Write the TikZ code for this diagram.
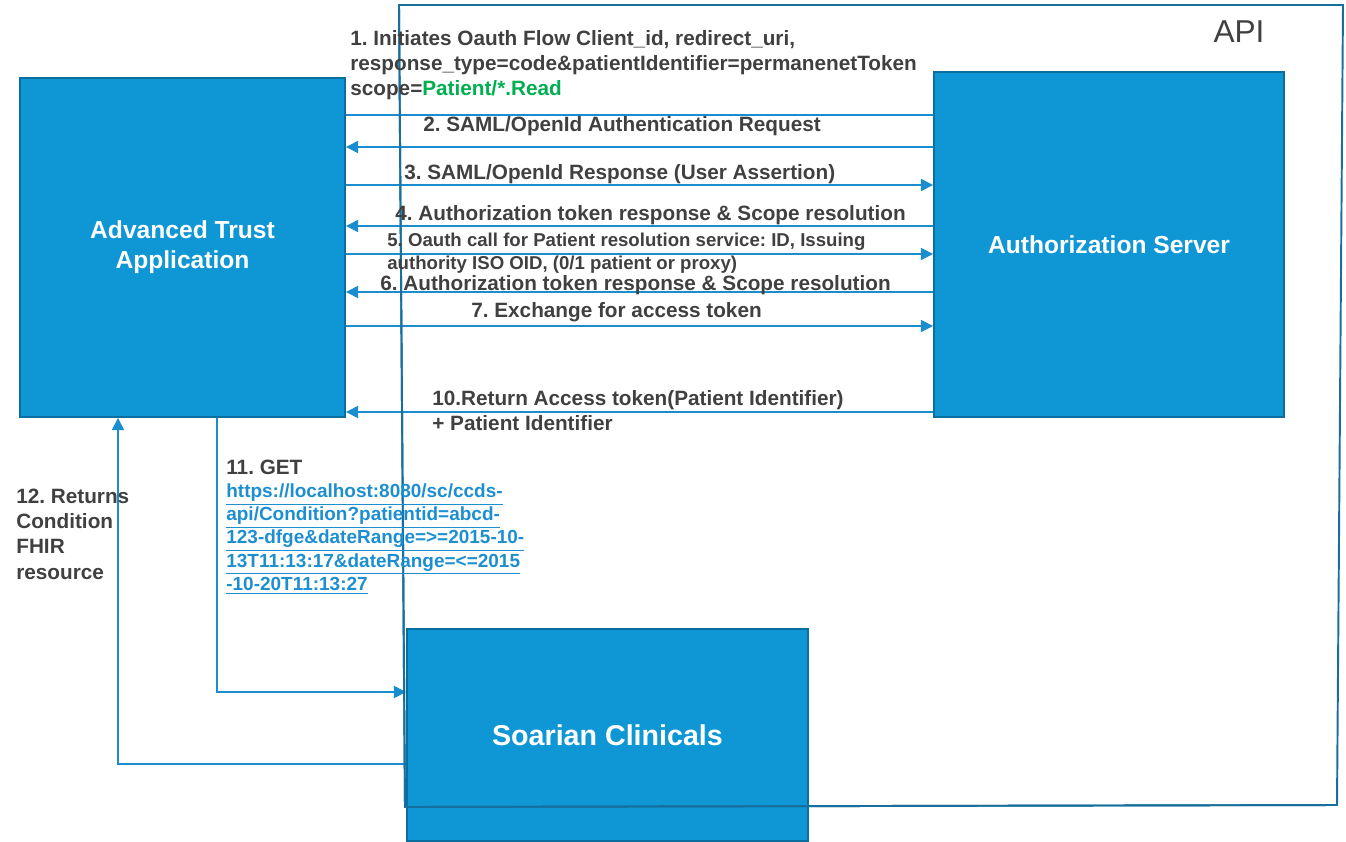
\documentclass[tikz,border=0pt]{standalone}
\usepackage{fontspec}
\setmainfont{Liberation Sans}
\usetikzlibrary{arrows.meta}
\definecolor{boxfill}{HTML}{0F96D4}
\definecolor{boxline}{HTML}{0A6E9E}
\definecolor{arrcol}{HTML}{1A8DCF}
\definecolor{framecol}{HTML}{166F9C}
\definecolor{txt}{HTML}{404040}
\definecolor{grn}{HTML}{00B050}
\definecolor{urlblue}{HTML}{1D8FD1}
\frenchspacing
\begin{document}
\begin{tikzpicture}[x=0.02cm,y=-0.02cm,
  bigbox/.style={draw=boxline,line width=1.1pt,fill=boxfill,inner sep=0pt,
    text=white,font=\bfseries\fontsize{14}{17}\selectfont,align=center},
  lbl/.style={inner sep=0pt,anchor=west,align=left,text=txt,
    font=\bfseries\fontsize{11.8}{14.2}\selectfont},
  conn/.style={draw=arrcol,line width=0.75pt},
  arr/.style={conn,-{Triangle[length=7pt,width=7pt]}}]
\useasboundingbox (0,0) rectangle (1346,842);
% boxes
\node[bigbox,minimum width=6.5cm,minimum height=6.78cm] (ata) at (182.5,247.5)
  {Advanced Trust\\Application};
\node[bigbox,minimum width=7cm,minimum height=6.9cm] (as) at (1109,244.5)
  {Authorization Server};
\node[bigbox,minimum width=8.02cm,minimum height=4.24cm,
  font=\bfseries\fontsize{16.3}{19}\selectfont] (sc) at (607.5,735)
  {Soarian Clinicals};
% API frame
\draw[framecol,line width=1.1pt] (399,5) -- (1343,5) -- (1337,805) -- (405,807) -- cycle;
\node[inner sep=0pt,text=txt,font=\fontsize{18}{20}\selectfont] (api) at (1239,32) {API};
% levels
\coordinate (y1) at (0,115);
\coordinate (y2) at (0,147);
\coordinate (y3) at (0,185);
\coordinate (y4) at (0,226);
\coordinate (y5) at (0,254);
\coordinate (y6) at (0,292);
\coordinate (y7) at (0,326);
\coordinate (y10) at (0,412);
\coordinate (c11) at (217,692);
\coordinate (c12) at (118,764);
% connectors
\draw[conn] (ata.east |- y1) -- (as.west |- y1);
\draw[arr] (as.west |- y2) -- (ata.east |- y2);
\draw[arr] (ata.east |- y3) -- (as.west |- y3);
\draw[arr] (as.west |- y4) -- (ata.east |- y4);
\draw[arr] (ata.east |- y5) -- (as.west |- y5);
\draw[arr] (as.west |- y6) -- (ata.east |- y6);
\draw[arr] (ata.east |- y7) -- (as.west |- y7);
\draw[arr] (as.west |- y10) -- (ata.east |- y10);
\draw[arr] (ata.south -| c11) -- (c11) -- (sc.west |- c11);
\draw[arr] (sc.west |- c12) -- (c12) -- (ata.south -| c12);
% redraw frame edges over soarian box
\draw[framecol,line width=1.1pt] (1337,805) -- (405,807) -- (399,5);
% labels
\node[lbl] (t1) at (350,65) {1. Initiates Oauth Flow Client\_id, redirect\_uri,\\
  response\_type=code\&patientIdentifier=permanenetToken\\
  scope=\textcolor{grn}{Patient/*.Read}};
\node[lbl] (t2) at (423,126) {2. SAML/OpenId Authentication Request};
\node[lbl] (t3) at (404,174) {3. SAML/OpenId Response (User Assertion)};
\node[lbl] (t4) at (395,215) {4. Authorization token response \& Scope resolution};
\node[lbl,font=\bfseries\fontsize{10.6}{13}\selectfont] (t5) at (387,253.5)
  {5. Oauth call for Patient resolution service: ID, Issuing\\
   authority ISO OID, (0/1 patient or proxy)};
\node[lbl] (t6) at (380,285) {6. Authorization token response \& Scope resolution};
\node[lbl] (t7) at (471,312) {7. Exchange for access token};
\node[lbl] (t10) at (432,410.5) {10.Return Access token(Patient Identifier)\\
  + Patient Identifier};
\node[lbl,font=\bfseries\fontsize{10.8}{13.2}\selectfont] (t11) at (226,527)
  {{\fontsize{11.8}{13.2}\selectfont 11. GET}\\
  \textcolor{urlblue}{\underline{https://localhost:8080/sc/ccds-}}\\
  \textcolor{urlblue}{\underline{api/Condition?patientid=abcd-}}\\
  \textcolor{urlblue}{\underline{123-dfge\&dateRange=>=2015-10-}}\\
  \textcolor{urlblue}{\underline{13T11:13:17\&dateRange=<=2015}}\\
  \textcolor{urlblue}{\underline{-10-20T11:13:27}}};
\node[lbl,font=\bfseries\fontsize{11.8}{14.4}\selectfont] (t12) at (16,534)
  {12. Returns\\Condition\\FHIR\\resource};
\end{tikzpicture}
\end{document}
